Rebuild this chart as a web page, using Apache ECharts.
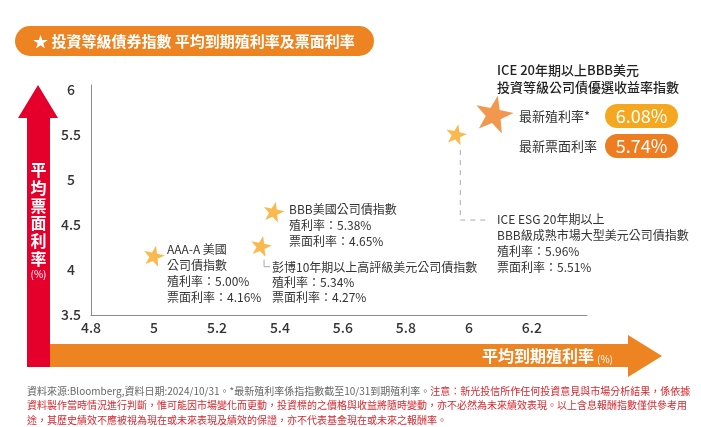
<!DOCTYPE html>
<html>
<head>
<meta charset="utf-8">
<script src="https://cdn.jsdelivr.net/npm/echarts@6/dist/echarts.min.js"></script>
<style>
  html, body { margin: 0; background: #fff; }
  #chart { width: 701px; height: 427px; }
</style>
</head>
<body>
<div id="chart"></div>
<script>
const FONT = '"Noto Sans CJK TC", "Noto Sans", sans-serif';

// data
const indexNames = [
  "AAA-A 美國\n公司債指數",
  "BBB美國公司債指數",
  "彭博10年期以上高評級美元公司債指數",
  "ICE ESG 20年期以上\nBBB級成熟市場大型美元公司債指數",
  "ICE 20年期以上BBB美元\n投資等級公司債優選收益率指數",
];
const yieldValues = [5.0, 5.38, 5.34, 5.96, 6.08];
const couponValues = [4.16, 4.65, 4.27, 5.51, 5.74];
const xAxisMin = 4.8, xAxisStep = 0.2;
const yAxisMin = 3.5, yAxisStep = 0.5;

const ORANGE = "#EE8321";
const RED = "#E4002B";
const STAR = "path://M0,-50 L11.8,-16.2 L47.6,-15.5 L19,6.2 L29.4,40.5 L0,20 L-29.4,40.5 L-19,6.2 L-47.6,-15.5 L-11.8,-16.2 Z";

const chart = echarts.init(document.getElementById("chart"));

function fmt(v) { return v.toFixed(2) + "%"; }
function note(i) {
  return indexNames[i] + "\n殖利率：" + fmt(yieldValues[i]) + "\n票面利率：" + fmt(couponValues[i]);
}

chart.setOption({
  animation: false,
  grid: { left: 91, top: 85, width: 496, height: 230, containLabel: false },
  xAxis: {
    type: "value",
    min: xAxisMin,
    max: 6.375,
    interval: xAxisStep,
    splitLine: { show: false },
    axisTick: { show: false },
    axisLine: { show: true, onZero: false, lineStyle: { color: "#8a8a8a", width: 1 } },
    axisLabel: {
      showMaxLabel: false,
      margin: 6,
      color: "#333",
      fontSize: 14,
      fontWeight: 500,
      fontFamily: FONT,
      formatter: (v) => String(Math.round(v * 10) / 10),
    },
  },
  yAxis: {
    type: "value",
    min: yAxisMin,
    max: 6.055,
    interval: yAxisStep,
    splitLine: { show: false },
    axisTick: { show: false },
    axisLine: { show: true, onZero: false, lineStyle: { color: "#8a8a8a", width: 1 } },
    axisLabel: {
      showMaxLabel: false,
      margin: 20,
      align: "center",
      color: "#333",
      fontSize: 14,
      fontWeight: 500,
      fontFamily: FONT,
      formatter: (v) => String(Math.round(v * 10) / 10),
    },
  },
  series: [
    {
      type: "scatter",
      symbol: STAR,
      symbolRotate: -12,
      data: yieldValues.map((x, i) => ({
        value: [x, couponValues[i]],
        symbolSize: i === 4 ? [38, 36] : [21, 20],
        itemStyle: { color: i === 4 ? "#EE7D22" : "#F7A823" },
      })),
      z: 5,
    },
  ],
});

const px = yieldValues.map((x, i) => chart.convertToPixel({ seriesIndex: 0 }, [x, couponValues[i]]));

const txt = (x, y, text, extra) => ({
  type: "text",
  x, y,
  z: 10,
  style: Object.assign({ text, fill: "#333", font: "12px " + FONT, lineHeight: 16, verticalAlign: "top" }, extra || {}),
});

const graphics = [
  // title pill
  { type: "rect", shape: { x: 15, y: 26, width: 359, height: 30, r: 15 }, style: { fill: ORANGE }, z: 1 },
  txt(33, 41, "★ 投資等級債券指數 平均到期殖利率及票面利率", {
    fill: "#fff", font: "bold 15px " + FONT, verticalAlign: "middle",
  }),
  // y arrow
  {
    type: "polygon",
    shape: { points: [[27, 118], [18, 118], [38, 85], [58, 118], [50, 118], [50, 367], [27, 367]] },
    style: { fill: RED },
    z: 2,
  },
  // x arrow
  {
    type: "polygon",
    shape: { points: [[50, 344], [628, 344], [628, 335], [662, 356], [628, 377], [628, 367], [50, 367]] },
    style: { fill: ORANGE },
    z: 1,
  },
  txt(38.5, 161, "平\n均\n票\n面\n利\n率", {
    fill: "#fff", font: "bold 16px " + FONT, lineHeight: 17.8, align: "center",
  }),
  txt(38.5, 274, "(%)", { fill: "#fff", font: "10px " + FONT, align: "center", verticalAlign: "middle" }),
  txt(482, 356, "平均到期殖利率", { fill: "#fff", font: "bold 16px " + FONT, verticalAlign: "middle" }),
  txt(597, 359, "(%)", { fill: "#fff", font: "10px " + FONT, verticalAlign: "middle" }),

  // annotations
  txt(167, 241, note(0)),
  txt(289, 201, note(1)),
  txt(272, 260, note(2), { lineHeight: 15 }),
  txt(497, 211, note(3)),
  txt(497, 62, indexNames[4], { fill: "#222", font: "500 13px " + FONT, lineHeight: 17 }),
  txt(519, 116, "最新殖利率*", { fill: "#333", font: "13px " + FONT, verticalAlign: "middle" }),
  txt(519, 146, "最新票面利率", { fill: "#333", font: "13px " + FONT, verticalAlign: "middle" }),
  { type: "rect", shape: { x: 605, y: 104, width: 73, height: 24, r: 12 }, style: { fill: "#F5A81F" }, z: 1 },
  { type: "rect", shape: { x: 605, y: 134, width: 73, height: 24, r: 12 }, style: { fill: "#EE7D22" }, z: 1 },
  txt(641.5, 116, fmt(yieldValues[4]), { fill: "#fff", font: "18px " + FONT, align: "center", verticalAlign: "middle" }),
  txt(641.5, 146, fmt(couponValues[4]), { fill: "#fff", font: "18px " + FONT, align: "center", verticalAlign: "middle" }),

  // leader lines
  {
    type: "polyline",
    shape: { points: [[px[2][0] + 3, px[2][1] + 14], [px[2][0] + 3, px[2][1] + 21], [px[2][0] + 9, px[2][1] + 21]] },
    style: { stroke: "#aaa", lineWidth: 1, fill: null },
  },
  {
    type: "polyline",
    shape: { points: [[px[3][0] + 4, px[3][1] + 16], [px[3][0] + 4, px[3][1] + 86], [px[3][0] + 30, px[3][1] + 86]] },
    style: { stroke: "#aaa", lineWidth: 1, lineDash: [5, 5], fill: null },
  },

  // footnote
  {
    type: "text",
    x: 27, y: 384,
    z: 10,
    style: {
      text:
        "{g|資料來源:Bloomberg,資料日期:2024/10/31。*最新殖利率係指指數截至10/31到期殖利率。}{r|注意：新光投信所作任何投資意見與市場分析結果，係依據}\n" +
        "{r|資料製作當時情況進行判斷，惟可能因市場變化而更動，投資標的之價格與收益將隨時變動，亦不必然為未來績效表現。以上含息報酬指數僅供參考用}\n" +
        "{r|途，其歷史績效不應被視為現在或未來表現及績效的保證，亦不代表基金現在或未來之報酬率。}",
      font: "10px " + FONT,
      lineHeight: 14.3,
      verticalAlign: "top",
      rich: {
        g: { fill: "#666", font: "10px " + FONT, lineHeight: 14.3 },
        r: { fill: "#D7282F", font: "10px " + FONT, lineHeight: 14.3 },
      },
    },
  },
];

chart.setOption({ graphic: { elements: graphics } });
</script>
</body>
</html>
